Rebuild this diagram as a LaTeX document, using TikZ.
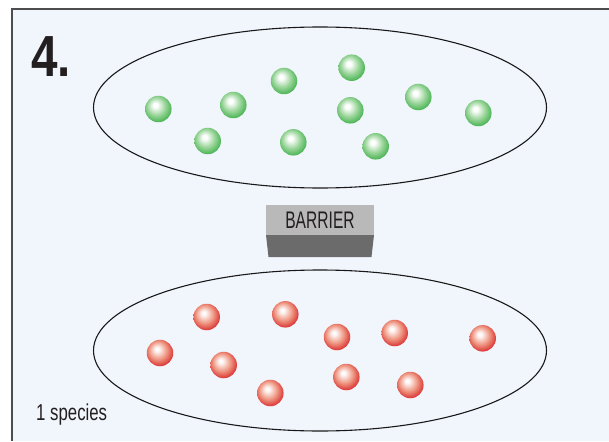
\documentclass[tikz,border=0pt]{standalone}
\usepackage{graphicx}
\usepackage{fontspec}
\setmainfont{Liberation Sans}
\usetikzlibrary{shapes.geometric}
\definecolor{bgblue}{HTML}{F1F6FD}
\definecolor{framegray}{HTML}{4D4D4D}
\definecolor{inkdark}{HTML}{231F20}
\definecolor{gmain}{HTML}{3DAF48}
\definecolor{gmid}{HTML}{9AD59A}
\definecolor{rmain}{HTML}{D82629}
\definecolor{rmid}{HTML}{EE9580}
\definecolor{barlight}{HTML}{B9B9B9}
\definecolor{bardark}{HTML}{6B6B6B}
\pgfdeclareradialshading{greenball}{\pgfpoint{-6bp}{8bp}}{color(0bp)=(white); color(4bp)=(white); color(17bp)=(gmid); color(30bp)=(gmain); color(50bp)=(gmain!85!black)}
\pgfdeclareradialshading{redball}{\pgfpoint{-6bp}{8bp}}{color(0bp)=(white); color(4bp)=(white!92!rmid); color(17bp)=(rmid); color(30bp)=(rmain); color(50bp)=(rmain!85!black)}
\tikzset{
  ball/.style={circle, minimum size=26.5pt, inner sep=0pt, shade},
  gball/.style={ball, shading=greenball},
  rball/.style={ball, shading=redball},
  pool/.style={ellipse, draw=black!90, line width=1.1pt, minimum width=453pt, minimum height=161pt, inner sep=0pt},
  lbl/.style={inner sep=0pt, text=inkdark}
}
\begin{document}
\begin{tikzpicture}[x=1pt,y=-1pt]
\useasboundingbox (0,0) rectangle (609,441);
\fill[white] (0,0) rectangle (609,441);
\fill[bgblue] (12,9) rectangle (609,441);
\draw[framegray, line width=1.1pt] (12,441) -- (12,9) -- (609,9);
% pools
\node[pool] (top) at (320,107.5) {};
\node[pool] (bot) at (320,350.5) {};
% green
\node[gball] (g1) at (158.3,109) {};
\node[gball] (g2) at (233.3,105) {};
\node[gball] (g3) at (284,81) {};
\node[gball] (g4) at (351.7,67.7) {};
\node[gball] (g5) at (418.3,97) {};
\node[gball] (g6) at (478.3,113) {};
\node[gball] (g7) at (207.7,141) {};
\node[gball] (g8) at (293.3,142.3) {};
\node[gball] (g9) at (350.3,110.3) {};
\node[gball] (g10) at (375.7,146.3) {};
% red
\node[rball] (r1) at (206.7,317) {};
\node[rball] (r2) at (285.3,314.3) {};
\node[rball] (r3) at (337,337) {};
\node[rball] (r4) at (394.7,333) {};
\node[rball] (r5) at (482.7,338.3) {};
\node[rball] (r6) at (160,353) {};
\node[rball] (r7) at (223.7,365) {};
\node[rball] (r8) at (270.3,393) {};
\node[rball] (r9) at (346.3,377) {};
\node[rball] (r10) at (410.3,385) {};
% barrier
\fill[barlight] (266,205) rectangle (374,235);
\fill[bardark] (266,235) -- (374,235) -- (371.5,257) -- (268.5,257) -- cycle;
\node[lbl, anchor=base] (barrier) at (320,228) {\fontsize{24}{24}\selectfont\scalebox{0.65}[1]{BARRIER}};
% labels
\node[lbl, anchor=base west] (num) at (31,77) {\fontsize{58}{58}\selectfont\bfseries\scalebox{0.82}[1]{4.}};
\node[lbl, anchor=base west] (species) at (36,420.7) {\fontsize{23}{23}\selectfont\scalebox{0.73}[1]{1 species}};
\end{tikzpicture}
\end{document}
